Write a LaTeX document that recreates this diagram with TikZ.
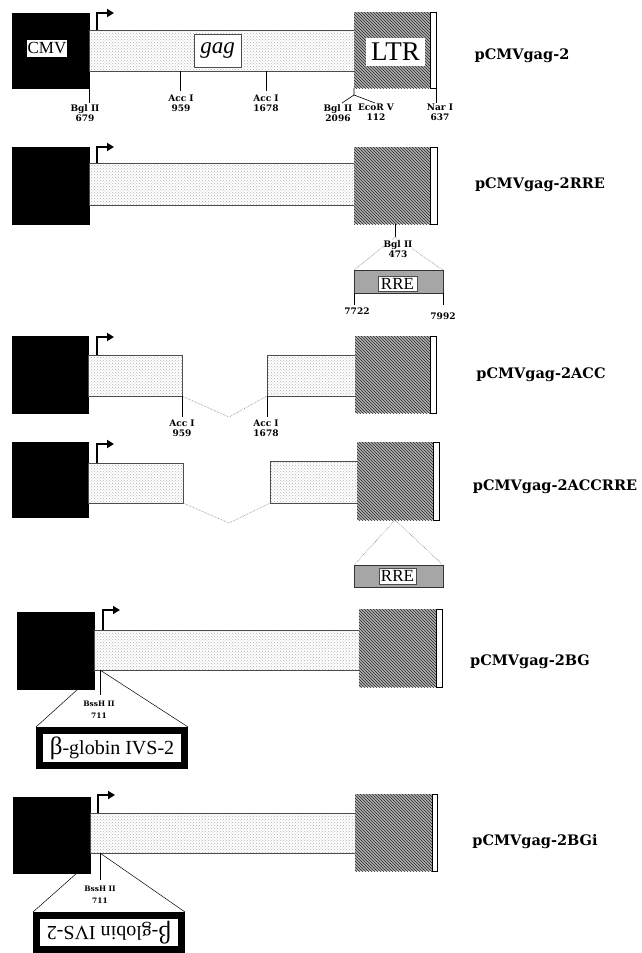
\documentclass[tikz,border=0pt]{standalone}
\usepackage{fontspec}
\usepackage{graphicx}
\setmainfont{Liberation Serif}
\newfontfamily\dvs{DejaVu Serif}
\usetikzlibrary{patterns,arrows.meta}
\tikzset{
 box/.style={inner sep=0pt, outer sep=0pt, anchor=north west},
 cmvbox/.style={box, fill=black, draw=black},
 gagbar/.style={box, preaction={fill=white}, pattern=crosshatch dots, pattern color=gray!60, draw=gray!60!black, line width=0.7pt},
 ltrbox/.style={box, preaction={fill=gray!62}, pattern=north west lines, pattern color=black!85},
 stripbox/.style={box, fill=white, draw=black, line width=0.6pt},
 rrebox/.style={box, fill=gray!70, draw=gray!40!black, line width=0.6pt},
 lab/.style={fill=white, draw=black!70, line width=0.5pt, inner sep=0pt, outer sep=0pt},
 site/.style={font=\dvs\bfseries\fontsize{9}{10}\selectfont, align=center, inner sep=0pt, anchor=north},
 bsite/.style={font=\dvs\bfseries\fontsize{7.5}{11.5}\selectfont, align=center, inner sep=0pt, anchor=north},
 tick/.style={draw=black, line width=0.6pt},
 dotl/.style={draw=gray, densely dotted, line width=0.6pt},
 thinl/.style={draw=black, line width=0.5pt},
 promoter/.style={line width=1.8pt, -{Triangle[length=7pt,width=8pt]}},
 pname/.style={font=\dvs\bfseries\fontsize{14.5}{16}\selectfont, inner sep=0pt},
 globin/.style={draw=black, line width=7pt, fill=white, minimum width=145pt, inner sep=0pt},
}
\newcommand{\globintext}{{\fontsize{25}{25}\selectfont β}{\fontsize{20}{20}\selectfont -globin IVS-2}}
\begin{document}
\begin{tikzpicture}[x=1pt,y=-1pt]
\useasboundingbox (0,0) rectangle (641,953);

% ---------------- construct 1: pCMVgag-2
\node[cmvbox, minimum width=77pt, minimum height=75pt] (c1) at (12,13) {};
\node[lab, draw=none, minimum width=40pt, minimum height=17pt, font=\fontsize{17}{17}\selectfont] (c1l) at (47,48.5) {CMV};
\node[gagbar, minimum width=265pt, minimum height=41pt] (g1) at (89,30) {};
\node[lab, draw=gray!60!black, minimum width=47pt, minimum height=33pt, font=\itshape\fontsize{23}{23}\selectfont] (g1l) at (217.5,50.5) {gag};
\node[ltrbox, minimum width=76pt, minimum height=76pt] (l1) at (354,12) {};
\node[stripbox, minimum width=6pt, minimum height=76pt] (s1) at (430,12) {};
\node[lab, draw=none, minimum width=59pt, minimum height=28pt, font=\fontsize{27}{27}\selectfont] (l1l) at (395.5,52) {LTR};
\draw[promoter] ([xshift=8pt]g1.north west) -- ++(0,-17) -- ++(17,0);
\draw[tick] (c1.south east) -- ++(0,15);
\node[site] (a1) at (85,104) {Bgl II\\679};
\draw[tick] ([xshift=91pt]g1.south west) -- ++(0,20);
\node[site] (a2) at (181,95) {Acc I\\959};
\draw[tick] ([xshift=177pt]g1.south west) -- ++(0,20);
\node[site] (a3) at (266,95) {Acc I\\1678};
\draw[tick] (l1.south west) -- ++(0,7) coordinate (br1) -- ++(-12,8);
\draw[tick] (br1) -- ++(21,8);
\node[site] (a4) at (338,104) {Bgl II\\2096};
\node[site] (a5) at (376,104) {EcoR V\\112};
\draw[tick] (s1.south east) -- ++(0,15);
\node[site] (a6) at (440,104) {Nar I\\637};
\node[pname] (n1) at (522,56) {pCMVgag-2};

% ---------------- construct 2: pCMVgag-2RRE
\node[cmvbox, minimum width=77pt, minimum height=77pt] (c2) at (12,147) {};
\node[gagbar, minimum width=265pt, minimum height=42pt] (g2) at (89,163) {};
\node[ltrbox, minimum width=76pt, minimum height=77pt] (l2) at (354,147) {};
\node[stripbox, minimum width=7pt, minimum height=77pt] (s2) at (430,147) {};
\draw[promoter] ([xshift=8pt]g2.north west) -- ++(0,-16) -- ++(17,0);
\node[rrebox, minimum width=89pt, minimum height=23pt] (r2) at (354,270) {};
\node[lab, minimum width=39pt, minimum height=15pt, font=\fontsize{17}{17}\selectfont] (r2l) at (397.5,284) {RRE};
\draw[tick] ([xshift=41pt]l2.south west) -- ++(0,13) coordinate (b2);
\draw[dotl] (b2) -- (r2.north west);
\draw[dotl] (b2) -- (r2.north east);
\node[site, fill=white] (a7) at (398,240) {Bgl II\\473};
\draw[tick] (r2.south west) -- ++(0,12);
\draw[tick] (r2.south east) -- ++(0,12);
\node[site] (a8) at (357,308) {7722};
\node[site] (a9) at (443,313) {7992};
\node[pname] (n2) at (540,185) {pCMVgag-2RRE};

% ---------------- construct 3: pCMVgag-2ACC
\node[cmvbox, minimum width=76pt, minimum height=77pt] (c3) at (12,336) {};
\node[gagbar, minimum width=94pt, minimum height=41pt] (gL3) at (88,355) {};
\node[gagbar, minimum width=89pt, minimum height=41pt] (gR3) at (267,355) {};
\node[ltrbox, minimum width=75pt, minimum height=77pt] (l3) at (355,336) {};
\node[stripbox, minimum width=6pt, minimum height=77pt] (s3) at (430,336) {};
\draw[promoter] ([xshift=9pt]gL3.north west) -- ++(0,-18) -- ++(17,0);
\coordinate (v3) at (229,417);
\draw[dotl] (gL3.south east) -- (v3) -- (gR3.south west);
\draw[tick] (gL3.south east) -- ++(0,21);
\draw[tick] (gR3.south west) -- ++(0,21);
\node[site] (a10) at (182,420) {Acc I\\959};
\node[site] (a11) at (266,420) {Acc I\\1678};
\node[pname] (n3) at (541,375) {pCMVgag-2ACC};

% ---------------- construct 4: pCMVgag-2ACCRRE
\node[cmvbox, minimum width=76pt, minimum height=75pt] (c4) at (12,442) {};
\node[gagbar, minimum width=95pt, minimum height=40pt] (gL4) at (88,463) {};
\node[gagbar, minimum width=87pt, minimum height=42pt] (gR4) at (270,461) {};
\node[ltrbox, minimum width=76pt, minimum height=78pt] (l4) at (357,442) {};
\node[stripbox, minimum width=6pt, minimum height=78pt] (s4) at (433,442) {};
\draw[promoter] ([xshift=9pt]gL4.north west) -- ++(0,-19) -- ++(17,0);
\coordinate (v4) at (229,523);
\draw[dotl] (gL4.south east) -- (v4) -- (gR4.south west);
\node[rrebox, minimum width=89pt, minimum height=22pt] (r4) at (354,565) {};
\node[lab, minimum width=37pt, minimum height=16pt, font=\fontsize{17}{17}\selectfont] (r4l) at (397.5,576) {RRE};
\draw[dotl] (l4.south) -- (r4.north west);
\draw[dotl] (l4.south) -- (r4.north east);
\node[pname] (n4) at (555,487) {pCMVgag-2ACCRRE};

% ---------------- construct 5: pCMVgag-2BG
\node[cmvbox, minimum width=77pt, minimum height=77pt] (c5) at (17,612) {};
\node[gagbar, minimum width=265pt, minimum height=40pt] (g5) at (94,630) {};
\node[ltrbox, minimum width=77pt, minimum height=78pt] (l5) at (359,609) {};
\node[stripbox, minimum width=6pt, minimum height=78pt] (s5) at (436,609) {};
\draw[promoter] ([xshift=9pt]g5.north west) -- ++(0,-20) -- ++(17,0);
\node[globin, minimum height=35pt] (gb5) at (112,748) {\globintext};
\draw[tick] ([xshift=6pt]g5.south west) -- ++(0,25);
\draw[thinl] ([xshift=-16pt]c5.south east) -- (gb5.north west);
\draw[thinl] ([xshift=6pt]g5.south west) -- (gb5.north east);
\node[bsite] (a12) at (99,701) {BssH II\\711};
\node[pname] (n5) at (530,662) {pCMVgag-2BG};

% ---------------- construct 6: pCMVgag-2BGi
\node[cmvbox, minimum width=77pt, minimum height=76pt] (c6) at (13,797) {};
\node[gagbar, minimum width=265pt, minimum height=40pt] (g6) at (90,813) {};
\node[ltrbox, minimum width=77pt, minimum height=77pt] (l6) at (355,794) {};
\node[stripbox, minimum width=5pt, minimum height=77pt] (s6) at (432,794) {};
\draw[promoter] ([xshift=8pt]g6.north west) -- ++(0,-18) -- ++(17,0);
\node[globin, minimum height=34pt] (gb6) at (109,932.5) {\rotatebox{180}{\globintext}};
\draw[tick] ([xshift=10pt]g6.south west) -- ++(0,27);
\draw[thinl] ([xshift=-13pt]c6.south east) -- (gb6.north west);
\draw[thinl] ([xshift=10pt]g6.south west) -- (gb6.north east);
\node[bsite] (a13) at (100,886) {BssH II\\711};
\node[pname] (n6) at (535,842) {pCMVgag-2BGi};
\end{tikzpicture}
\end{document}
